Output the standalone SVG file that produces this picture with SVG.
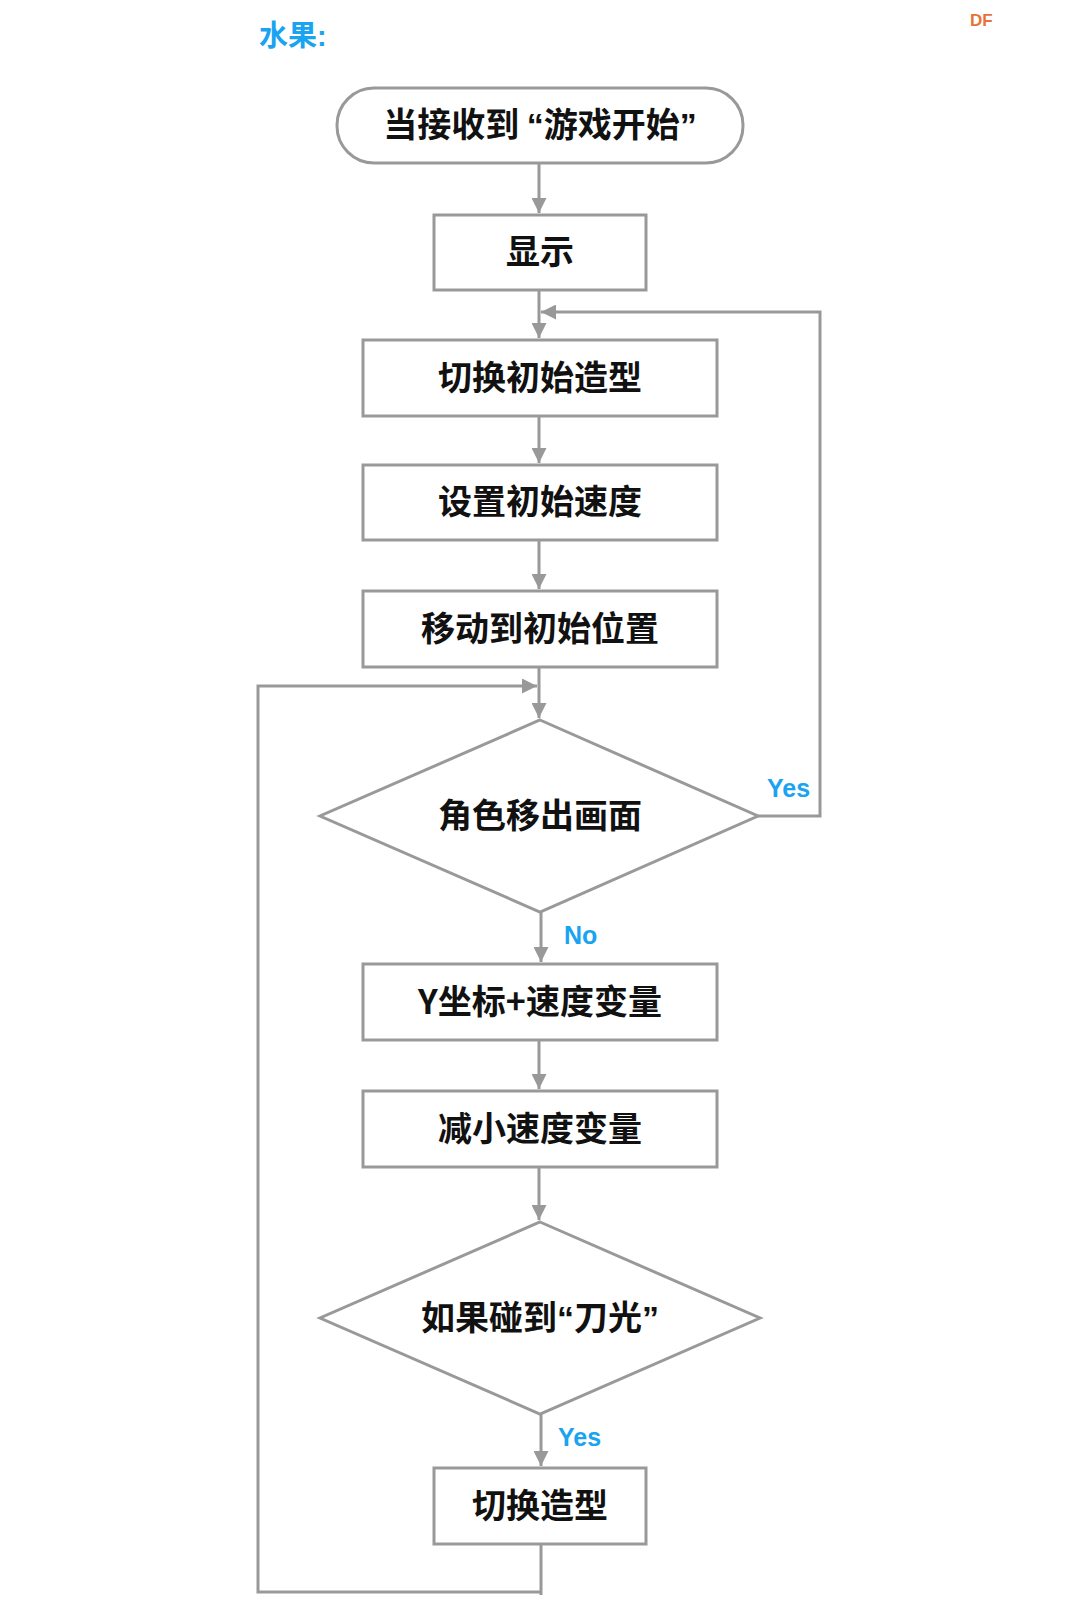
<svg xmlns="http://www.w3.org/2000/svg" width="1080" height="1615" viewBox="0 0 1080 1615">
<style>
.s{fill:#fff;stroke:#999;stroke-width:3}
.t{font-family:"Noto Sans CJK SC","Liberation Sans",sans-serif;font-weight:bold;font-size:34px;fill:#111;text-anchor:middle}
.q{font-family:"Liberation Sans",sans-serif}
.l{font-family:"Liberation Sans",sans-serif;font-weight:bold;font-size:25px;fill:#1AA3F0}
.c{fill:none;stroke:#999;stroke-width:3}
</style>
<defs><marker id="a" viewBox="0 0 10 10" refX="10" refY="5" markerWidth="5" markerHeight="5" orient="auto" markerUnits="strokeWidth"><path d="M0,0L10,5L0,10z" fill="#999"/></marker></defs>
<rect width="1080" height="1615" fill="#fff"/>
<text x="259" y="46" font-family="Noto Sans CJK SC,sans-serif" font-weight="bold" font-size="29" fill="#1AA3F0">水果<tspan font-family="Liberation Sans,sans-serif">:</tspan></text>
<text x="970" y="26" font-family="Liberation Sans,sans-serif" font-weight="bold" font-size="17" fill="#E8733A">DF</text>
<g id="connectors">
<path class="c" d="M539,163V213" marker-end="url(#a)"/>
<path class="c" d="M539,290V338" marker-end="url(#a)"/>
<path class="c" d="M539,416V463" marker-end="url(#a)"/>
<path class="c" d="M539,540V589" marker-end="url(#a)"/>
<path class="c" d="M539,667V718" marker-end="url(#a)"/>
<path class="c" d="M541,912V962" marker-end="url(#a)"/>
<path class="c" d="M539,1040V1089" marker-end="url(#a)"/>
<path class="c" d="M539,1167V1220" marker-end="url(#a)"/>
<path class="c" d="M541,1414V1466" marker-end="url(#a)"/>
<path class="c" d="M758,816H820V312H541" marker-end="url(#a)"/>
<path class="c" d="M541,1544V1595M541,1592H258V686H537" marker-end="url(#a)"/>
</g>
<text class="l" x="767" y="797">Yes</text>
<text class="l" x="564" y="944">No</text>
<text class="l" x="558" y="1446">Yes</text>
<g id="start"><rect class="s" x="337" y="88" width="406" height="75" rx="37"/><text class="t" x="540" y="137">当接收到 <tspan class="q">“</tspan>游戏开始<tspan class="q">”</tspan></text></g>
<g id="show"><rect class="s" x="434" y="215" width="212" height="75"/><text class="t" x="540" y="264">显示</text></g>
<g id="costume"><rect class="s" x="363" y="340" width="354" height="76"/><text class="t" x="540" y="390">切换初始造型</text></g>
<g id="speed"><rect class="s" x="363" y="465" width="354" height="75"/><text class="t" x="540" y="514">设置初始速度</text></g>
<g id="move"><rect class="s" x="363" y="591" width="354" height="76"/><text class="t" x="540" y="641">移动到初始位置</text></g>
<g id="d1"><path class="s" d="M540,720L758,816L540,912L320,816z"/><text class="t" x="540" y="828">角色移出画面</text></g>
<g id="y"><rect class="s" x="363" y="964" width="354" height="76"/><text class="t" x="540" y="1014">Y坐标+速度变量</text></g>
<g id="dec"><rect class="s" x="363" y="1091" width="354" height="76"/><text class="t" x="540" y="1141">减小速度变量</text></g>
<g id="d2"><path class="s" d="M540,1222L760,1318L540,1414L320,1318z"/><text class="t" x="540" y="1330">如果碰到<tspan class="q">“</tspan>刀光<tspan class="q">”</tspan></text></g>
<g id="switch"><rect class="s" x="434" y="1468" width="212" height="76"/><text class="t" x="540" y="1518">切换造型</text></g>
</svg>
